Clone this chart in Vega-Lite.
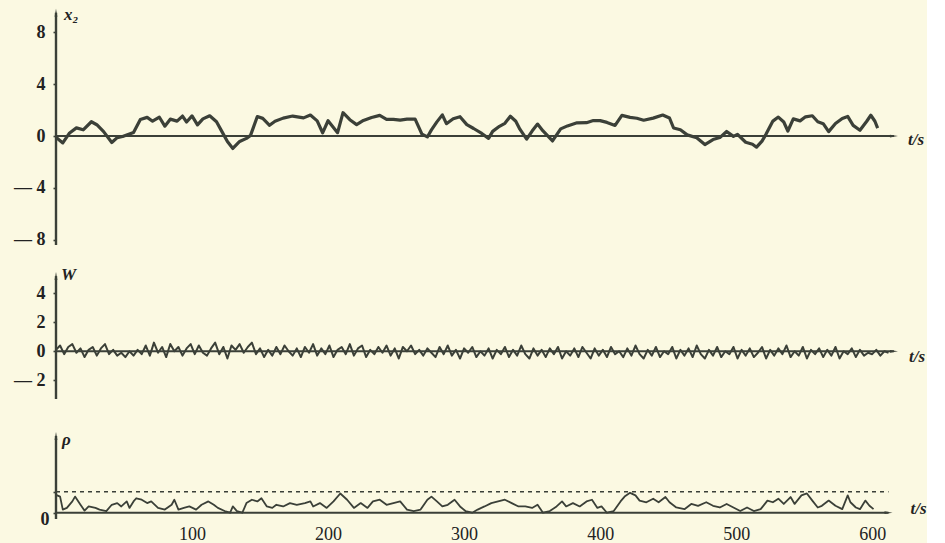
{
  "$schema": "https://vega.github.io/schema/vega-lite/v6.json",
  "background": "#fbf9e2",
  "padding": {"left": 13, "top": 5, "right": 0, "bottom": 0},
  "bounds": "flush",
  "spacing": 21,
  "config": {
    "view": {"stroke": null},
    "axisY": {"domain": false, "grid": false, "title": null, "ticks": true, "tickColor": "#3b4038", "tickSize": 3, "tickWidth": 1.6, "labelFont": "Liberation Serif", "labelFontWeight": "bold", "labelFontSize": 18, "labelColor": "#222", "labelPadding": 8, "labelOverlap": false, "labelFlush": false}
  },
  "datasets": {
    "x2": [
      {"t":0,"v":-0.1},{"t":5,"v":-0.53},{"t":10,"v":0.24},{"t":15,"v":0.63},{"t":20,"v":0.48},{"t":26,"v":1.1},{"t":30,"v":0.87},{"t":35,"v":0.34},{"t":41,"v":-0.5},{"t":45,"v":-0.12},{"t":49,"v":-0.04},{"t":53,"v":0.12},{"t":57,"v":0.28},{"t":62,"v":1.28},{"t":67,"v":1.44},{"t":71,"v":1.14},{"t":76,"v":1.45},{"t":80,"v":0.76},{"t":84,"v":1.3},{"t":89,"v":1.15},{"t":93,"v":1.54},{"t":96,"v":1.08},{"t":100,"v":1.55},{"t":104,"v":0.86},{"t":108,"v":1.32},{"t":113,"v":1.56},{"t":118,"v":1.1},{"t":122,"v":0.34},{"t":126,"v":-0.43},{"t":130,"v":-0.96},{"t":135,"v":-0.42},{"t":140,"v":-0.18},{"t":143,"v":0.05},{"t":148,"v":1.5},{"t":152,"v":1.36},{"t":157,"v":0.83},{"t":161,"v":1.14},{"t":167,"v":1.38},{"t":174,"v":1.54},{"t":182,"v":1.4},{"t":187,"v":1.62},{"t":192,"v":1.17},{"t":196,"v":0.25},{"t":200,"v":1.18},{"t":207,"v":0.26},{"t":211,"v":1.8},{"t":216,"v":1.26},{"t":221,"v":0.88},{"t":226,"v":1.2},{"t":232,"v":1.43},{"t":238,"v":1.59},{"t":243,"v":1.29},{"t":248,"v":1.29},{"t":253,"v":1.22},{"t":258,"v":1.3},{"t":264,"v":1.3},{"t":269,"v":0.15},{"t":273,"v":-0.07},{"t":276,"v":0.47},{"t":280,"v":1.09},{"t":284,"v":1.63},{"t":287,"v":0.95},{"t":292,"v":1.33},{"t":297,"v":1.49},{"t":302,"v":0.88},{"t":307,"v":0.58},{"t":313,"v":0.2},{"t":318,"v":-0.18},{"t":321,"v":0.36},{"t":326,"v":0.75},{"t":330,"v":0.98},{"t":334,"v":1.52},{"t":338,"v":1.14},{"t":341,"v":0.53},{"t":346,"v":-0.24},{"t":350,"v":0.38},{"t":354,"v":0.92},{"t":358,"v":0.39},{"t":365,"v":-0.38},{"t":371,"v":0.55},{"t":376,"v":0.78},{"t":383,"v":1.02},{"t":390,"v":1.03},{"t":395,"v":1.19},{"t":400,"v":1.19},{"t":405,"v":1.05},{"t":411,"v":0.82},{"t":416,"v":1.59},{"t":422,"v":1.44},{"t":427,"v":1.37},{"t":432,"v":1.22},{"t":439,"v":1.38},{"t":446,"v":1.62},{"t":451,"v":1.39},{"t":454,"v":0.62},{"t":459,"v":0.48},{"t":464,"v":0.09},{"t":471,"v":-0.13},{"t":477,"v":-0.66},{"t":483,"v":-0.27},{"t":488,"v":-0.12},{"t":493,"v":0.35},{"t":498,"v":-0.03},{"t":501,"v":0.13},{"t":507,"v":-0.48},{"t":512,"v":-0.63},{"t":515,"v":-0.86},{"t":519,"v":-0.39},{"t":522,"v":0.15},{"t":527,"v":1.15},{"t":531,"v":1.46},{"t":535,"v":1.08},{"t":538,"v":0.39},{"t":542,"v":1.32},{"t":547,"v":1.17},{"t":551,"v":1.48},{"t":556,"v":1.56},{"t":560,"v":1.1},{"t":564,"v":0.95},{"t":568,"v":0.34},{"t":573,"v":0.96},{"t":578,"v":1.35},{"t":582,"v":1.51},{"t":586,"v":0.82},{"t":591,"v":0.44},{"t":596,"v":1.14},{"t":599,"v":1.6},{"t":602,"v":1.14},{"t":604,"v":0.61}
    ],
    "w": [
      {"t":0,"w":0.1},{"t":3,"w":0.4},{"t":6,"w":-0.2},{"t":9,"w":0.3},{"t":12,"w":0.5},{"t":15,"w":-0.1},{"t":18,"w":0.2},{"t":21,"w":-0.4},{"t":24,"w":0.1},{"t":27,"w":0.3},
      {"t":30,"w":-0.3},{"t":33,"w":0.2},{"t":36,"w":0.5},{"t":39,"w":-0.2},{"t":42,"w":0.1},{"t":45,"w":-0.3},{"t":48,"w":-0.1},{"t":51,"w":-0.4},{"t":54,"w":0.0},{"t":57,"w":-0.3},
      {"t":60,"w":0.1},{"t":63,"w":-0.2},{"t":66,"w":0.4},{"t":69,"w":-0.3},{"t":72,"w":0.6},{"t":75,"w":-0.1},{"t":78,"w":0.3},{"t":81,"w":-0.4},{"t":84,"w":0.5},{"t":87,"w":0.0},
      {"t":90,"w":0.3},{"t":93,"w":-0.3},{"t":96,"w":0.2},{"t":99,"w":0.5},{"t":102,"w":-0.2},{"t":105,"w":0.4},{"t":108,"w":-0.1},{"t":111,"w":-0.3},{"t":114,"w":0.2},{"t":117,"w":0.6},
      {"t":120,"w":-0.2},{"t":123,"w":0.3},{"t":126,"w":-0.5},{"t":129,"w":0.4},{"t":132,"w":0.1},{"t":135,"w":0.5},{"t":138,"w":-0.1},{"t":141,"w":0.3},{"t":144,"w":0.6},{"t":147,"w":-0.2},
      {"t":150,"w":0.2},{"t":153,"w":-0.4},{"t":156,"w":0.1},{"t":159,"w":-0.3},{"t":162,"w":0.3},{"t":165,"w":-0.2},{"t":168,"w":0.4},{"t":171,"w":0.0},{"t":174,"w":-0.3},{"t":177,"w":0.2},
      {"t":180,"w":-0.4},{"t":183,"w":0.3},{"t":186,"w":-0.1},{"t":189,"w":0.5},{"t":192,"w":-0.3},{"t":195,"w":0.2},{"t":198,"w":-0.2},{"t":201,"w":0.4},{"t":204,"w":-0.4},{"t":207,"w":0.1},
      {"t":210,"w":0.3},{"t":213,"w":-0.2},{"t":216,"w":0.5},{"t":219,"w":-0.3},{"t":222,"w":0.2},{"t":225,"w":0.4},{"t":228,"w":-0.4},{"t":231,"w":0.1},{"t":234,"w":-0.2},{"t":237,"w":0.3},
      {"t":240,"w":-0.1},{"t":243,"w":0.4},{"t":246,"w":-0.3},{"t":249,"w":0.2},{"t":252,"w":-0.5},{"t":255,"w":0.3},{"t":258,"w":0.0},{"t":261,"w":0.4},{"t":264,"w":-0.2},{"t":267,"w":0.1},
      {"t":270,"w":-0.3},{"t":273,"w":0.2},{"t":276,"w":-0.1},{"t":279,"w":-0.4},{"t":282,"w":0.3},{"t":285,"w":-0.2},{"t":288,"w":0.4},{"t":291,"w":-0.3},{"t":294,"w":0.1},{"t":297,"w":-0.5},
      {"t":300,"w":0.2},{"t":303,"w":-0.1},{"t":306,"w":0.3},{"t":309,"w":-0.4},{"t":312,"w":0.0},{"t":315,"w":-0.3},{"t":318,"w":0.2},{"t":321,"w":-0.5},{"t":324,"w":0.1},{"t":327,"w":-0.2},
      {"t":330,"w":0.3},{"t":333,"w":-0.4},{"t":336,"w":0.1},{"t":339,"w":-0.3},{"t":342,"w":0.4},{"t":345,"w":-0.2},{"t":348,"w":-0.5},{"t":351,"w":0.2},{"t":354,"w":-0.3},{"t":357,"w":0.1},
      {"t":360,"w":-0.4},{"t":363,"w":0.2},{"t":366,"w":-0.2},{"t":369,"w":0.3},{"t":372,"w":-0.5},{"t":375,"w":0.0},{"t":378,"w":-0.3},{"t":381,"w":0.2},{"t":384,"w":-0.4},{"t":387,"w":0.3},
      {"t":390,"w":-0.1},{"t":393,"w":-0.5},{"t":396,"w":0.2},{"t":399,"w":-0.3},{"t":402,"w":0.1},{"t":405,"w":-0.4},{"t":408,"w":0.3},{"t":411,"w":-0.2},{"t":414,"w":0.0},{"t":417,"w":-0.4},
      {"t":420,"w":0.2},{"t":423,"w":-0.3},{"t":426,"w":0.4},{"t":429,"w":-0.2},{"t":432,"w":-0.5},{"t":435,"w":0.1},{"t":438,"w":-0.3},{"t":441,"w":0.3},{"t":444,"w":-0.4},{"t":447,"w":0.0},
      {"t":450,"w":-0.2},{"t":453,"w":0.3},{"t":456,"w":-0.5},{"t":459,"w":0.1},{"t":462,"w":-0.3},{"t":465,"w":0.2},{"t":468,"w":-0.4},{"t":471,"w":0.4},{"t":474,"w":-0.2},{"t":477,"w":-0.5},
      {"t":480,"w":0.1},{"t":483,"w":-0.3},{"t":486,"w":0.3},{"t":489,"w":-0.4},{"t":492,"w":0.0},{"t":495,"w":-0.2},{"t":498,"w":0.3},{"t":501,"w":-0.5},{"t":504,"w":0.1},{"t":507,"w":-0.3},
      {"t":510,"w":0.2},{"t":513,"w":-0.4},{"t":516,"w":-0.1},{"t":519,"w":0.3},{"t":522,"w":-0.5},{"t":525,"w":0.1},{"t":528,"w":-0.3},{"t":531,"w":0.2},{"t":534,"w":-0.2},{"t":537,"w":0.4},
      {"t":540,"w":-0.4},{"t":543,"w":0.0},{"t":546,"w":-0.3},{"t":549,"w":0.3},{"t":552,"w":-0.5},{"t":555,"w":0.1},{"t":558,"w":-0.2},{"t":561,"w":0.2},{"t":564,"w":-0.4},{"t":567,"w":0.1},
      {"t":570,"w":-0.3},{"t":573,"w":0.3},{"t":576,"w":-0.5},{"t":579,"w":0.0},{"t":582,"w":-0.2},{"t":585,"w":0.2},{"t":588,"w":-0.4},{"t":591,"w":0.1},{"t":594,"w":-0.3},{"t":597,"w":-0.1},
      {"t":600,"w":-0.2},{"t":603,"w":0.1},{"t":606,"w":-0.3},{"t":609,"w":0.0},{"t":612,"w":-0.1}
    ],
    "rho": [
      {"t":0,"r":0.85},{"t":3,"r":0.77},{"t":5,"r":0.15},{"t":8,"r":0.23},{"t":12,"r":0.54},{"t":14,"r":0.77},{"t":18,"r":0.38},{"t":21,"r":0.1},{"t":24,"r":0.3},{"t":29,"r":0.23},{"t":32,"r":0.15},{"t":37,"r":0.08},{"t":41,"r":0.38},{"t":45,"r":0.46},{"t":48,"r":0.3},{"t":52,"r":0.54},{"t":54,"r":0.23},{"t":57,"r":0.54},{"t":59,"r":0.69},{"t":63,"r":0.62},{"t":67,"r":0.46},{"t":70,"r":0.54},{"t":75,"r":0.23},{"t":80,"r":0.15},{"t":85,"r":0.38},{"t":87,"r":0.62},{"t":90,"r":0.15},{"t":94,"r":0.23},{"t":98,"r":0.3},{"t":103,"r":0.15},{"t":107,"r":0.38},{"t":112,"r":0.54},{"t":116,"r":0.38},{"t":119,"r":0.23},{"t":124,"r":0.08},{"t":128,"r":0},{"t":130,"r":0.3},{"t":133,"r":0.08},{"t":137,"r":0},{"t":140,"r":0.46},{"t":144,"r":0.62},{"t":148,"r":0.54},{"t":151,"r":0.69},{"t":155,"r":0.3},{"t":159,"r":0.23},{"t":162,"r":0.38},{"t":167,"r":0.3},{"t":172,"r":0.46},{"t":177,"r":0.38},{"t":183,"r":0.46},{"t":187,"r":0.54},
      {"t":189,"r":0.3},{"t":194,"r":0.46},{"t":199,"r":0.23},{"t":204,"r":0.54},{"t":209,"r":0.92},{"t":214,"r":0.62},{"t":219,"r":0.23},{"t":224,"r":0.46},{"t":229,"r":0.23},{"t":233,"r":0.54},{"t":238,"r":0.62},{"t":243,"r":0.38},{"t":248,"r":0.46},{"t":253,"r":0.54},{"t":258,"r":0.15},{"t":263,"r":0.08},{"t":268,"r":0.15},{"t":273,"r":0.62},{"t":276,"r":0.77},{"t":280,"r":0.54},{"t":284,"r":0.3},{"t":288,"r":0.38},{"t":293,"r":0.62},{"t":297,"r":0.3},{"t":301,"r":0.08},{"t":306,"r":0},{"t":310,"r":0.15},{"t":315,"r":0.3},{"t":320,"r":0.46},{"t":325,"r":0.54},{"t":330,"r":0.62},{"t":335,"r":0.46},{"t":340,"r":0.3},{"t":345,"r":0.3},{"t":350,"r":0.23},{"t":354,"r":0.38},{"t":358,"r":0},{"t":363,"r":0.08},{"t":368,"r":0.3},{"t":372,"r":0.54},{"t":375,"r":0.3},{"t":380,"r":0.46},{"t":385,"r":0.3},{"t":390,"r":0.54},{"t":394,"r":0.62},{"t":398,"r":0.23},{"t":401,"r":0.3},{"t":405,"r":0},{"t":410,"r":0.08},{"t":415,"r":0.54},{"t":418,"r":0.77},
      {"t":422,"r":0.95},{"t":426,"r":0.83},{"t":429,"r":0.58},{"t":434,"r":0.5},{"t":439,"r":0.67},{"t":443,"r":0.5},{"t":448,"r":0.75},{"t":451,"r":0.5},{"t":456,"r":0.25},{"t":462,"r":0.17},{"t":467,"r":0.42},{"t":472,"r":0.33},{"t":478,"r":0.5},{"t":483,"r":0.33},{"t":488,"r":0.25},{"t":493,"r":0.42},{"t":498,"r":0.25},{"t":503,"r":0.08},{"t":508,"r":0.25},{"t":513,"r":0.08},{"t":518,"r":0.17},{"t":523,"r":0.58},{"t":527,"r":0.5},{"t":531,"r":0.67},{"t":535,"r":0.42},{"t":540,"r":0.75},{"t":543,"r":0.42},{"t":548,"r":0.83},{"t":552,"r":0.92},{"t":556,"r":0.58},{"t":560,"r":0.25},{"t":563,"r":0.33},{"t":568,"r":0.58},{"t":573,"r":0.33},{"t":578,"r":0.17},{"t":582,"r":0.83},{"t":584,"r":0.5},{"t":588,"r":0.25},{"t":591,"r":0.17},{"t":595,"r":0.58},{"t":598,"r":0.33},{"t":601,"r":0.17}
    ]
  },
  "vconcat": [
    {
      "width": 857, "height": 240,
      "layer": [
        {
          "data": {"name": "x2"},
          "mark": {"type": "line", "color": "#3b4038", "strokeWidth": 3.2, "strokeJoin": "round"},
          "encoding": {
            "x": {"field": "t", "type": "quantitative", "scale": {"domain": [0, 630], "nice": false, "zero": false}, "axis": null},
            "y": {"field": "v", "type": "quantitative", "scale": {"domain": [-8.4, 10.1], "nice": false, "zero": false},
                  "axis": {"values": [-8,-7.5,-7,-6.5,-6,-5.5,-5,-4.5,-4,-3.5,-3,-2.5,-2,-1.5,-1,-0.5,0,0.5,1,1.5,2,2.5,3,3.5,4,4.5,5,5.5,6,6.5,7,7.5,8],
                           "labelExpr": "datum.value % 4 == 0 ? (datum.value < 0 ? '— ' + format(-datum.value, 'd') : format(datum.value, 'd')) : ''"}}
          }
        },
        {
          "data": {"values": [{}]},
          "mark": {"type": "rule", "color": "#3b4038", "strokeWidth": 2},
          "encoding": {"x": {"datum": 0, "type": "quantitative"}, "x2": {"datum": 616}, "y": {"datum": 0, "type": "quantitative"}}
        },
        {
          "data": {"values": [{}]},
          "mark": {"type": "rule", "color": "#3b4038", "strokeWidth": 2.4},
          "encoding": {"x": {"datum": 0, "type": "quantitative"}, "y": {"datum": -8.4, "type": "quantitative"}, "y2": {"datum": 9.5}}
        },
        {
          "data": {"values": [{}]},
          "mark": {"type": "point", "shape": "M-1,-0.35L1,0L-1,0.35Z", "size": 64, "filled": true, "opacity": 1, "color": "#3b4038"},
          "encoding": {"x": {"datum": 616, "type": "quantitative"}, "y": {"datum": 0, "type": "quantitative"}}
        },
        {
          "data": {"values": [{}]},
          "mark": {"type": "point", "shape": "M-0.35,1L0,-1L0.35,1Z", "size": 64, "filled": true, "opacity": 1, "color": "#3b4038"},
          "encoding": {"x": {"datum": 0, "type": "quantitative"}, "y": {"datum": 9.5, "type": "quantitative"}}
        },
        {
          "data": {"values": [{}]},
          "mark": {"type": "text", "text": "t/s", "align": "left", "baseline": "middle", "dx": 14, "dy": 4, "font": "Liberation Serif", "fontStyle": "italic", "fontWeight": "bold", "fontSize": 17, "color": "#222"},
          "encoding": {"x": {"datum": 616, "type": "quantitative"}, "y": {"datum": 0, "type": "quantitative"}}
        },
        {
          "data": {"values": [{}]},
          "mark": {"type": "text", "text": "x₂", "align": "left", "baseline": "top", "dx": 8, "dy": 2, "font": "Liberation Serif", "fontStyle": "italic", "fontWeight": "bold", "fontSize": 17, "color": "#222"},
          "encoding": {"x": {"datum": 0, "type": "quantitative"}, "y": {"datum": 10.1, "type": "quantitative"}}
        }
      ]
    },
    {
      "width": 857, "height": 133,
      "layer": [
        {
          "data": {"name": "w"},
          "mark": {"type": "line", "color": "#3b4038", "strokeWidth": 2, "strokeJoin": "round"},
          "encoding": {
            "x": {"field": "t", "type": "quantitative", "scale": {"domain": [0, 630], "nice": false, "zero": false}, "axis": null},
            "y": {"field": "w", "type": "quantitative", "scale": {"domain": [-3.3, 5.9], "nice": false, "zero": false},
                  "axis": {"values": [-2, 0, 2, 4],
                           "labelExpr": "datum.value < 0 ? '— ' + format(-datum.value, 'd') : format(datum.value, 'd')"}}
          }
        },
        {
          "data": {"values": [{}]},
          "mark": {"type": "rule", "color": "#3b4038", "strokeWidth": 2},
          "encoding": {"x": {"datum": 0, "type": "quantitative"}, "x2": {"datum": 616}, "y": {"datum": 0, "type": "quantitative"}}
        },
        {
          "data": {"values": [{}]},
          "mark": {"type": "rule", "color": "#3b4038", "strokeWidth": 2.4},
          "encoding": {"x": {"datum": 0, "type": "quantitative"}, "y": {"datum": -3.3, "type": "quantitative"}, "y2": {"datum": 5.2}}
        },
        {
          "data": {"values": [{}]},
          "mark": {"type": "point", "shape": "M-1,-0.35L1,0L-1,0.35Z", "size": 64, "filled": true, "opacity": 1, "color": "#3b4038"},
          "encoding": {"x": {"datum": 616, "type": "quantitative"}, "y": {"datum": 0, "type": "quantitative"}}
        },
        {
          "data": {"values": [{}]},
          "mark": {"type": "point", "shape": "M-0.35,1L0,-1L0.35,1Z", "size": 64, "filled": true, "opacity": 1, "color": "#3b4038"},
          "encoding": {"x": {"datum": 0, "type": "quantitative"}, "y": {"datum": 5.2, "type": "quantitative"}}
        },
        {
          "data": {"values": [{}]},
          "mark": {"type": "text", "text": "t/s", "align": "left", "baseline": "middle", "dx": 15, "dy": 6, "font": "Liberation Serif", "fontStyle": "italic", "fontWeight": "bold", "fontSize": 17, "color": "#222"},
          "encoding": {"x": {"datum": 616, "type": "quantitative"}, "y": {"datum": 0, "type": "quantitative"}}
        },
        {
          "data": {"values": [{}]},
          "mark": {"type": "text", "text": "W", "align": "left", "baseline": "top", "dx": 5, "dy": 1, "font": "Liberation Serif", "fontStyle": "italic", "fontWeight": "bold", "fontSize": 17, "color": "#222"},
          "encoding": {"x": {"datum": 0, "type": "quantitative"}, "y": {"datum": 5.9, "type": "quantitative"}}
        }
      ]
    },
    {
      "width": 857, "height": 99,
      "layer": [
        {
          "data": {"values": [{}]},
          "mark": {"type": "rule", "color": "#3b4038", "strokeWidth": 1.6, "strokeDash": [4, 4]},
          "encoding": {"x": {"datum": 0, "type": "quantitative"}, "x2": {"datum": 612}, "y": {"datum": 1, "type": "quantitative"}}
        },
        {
          "data": {"name": "rho"},
          "mark": {"type": "line", "color": "#3b4038", "strokeWidth": 1.8, "strokeJoin": "round"},
          "encoding": {
            "x": {"field": "t", "type": "quantitative", "scale": {"domain": [0, 630], "nice": false, "zero": false},
                  "axis": {"values": [100, 200, 300, 400, 500, 600], "domain": false, "ticks": false, "grid": false, "title": null, "labelFont": "Liberation Serif", "labelFontSize": 18, "labelColor": "#222", "labelPadding": 6, "labelFlush": false}},
            "y": {"field": "r", "type": "quantitative", "scale": {"domain": [-0.3, 4.43], "nice": false, "zero": false},
                  "axis": {"values": [0, 1], "labelExpr": "datum.value == 0 ? '0' : ''", "labelOffset": 7, "labelPadding": 4}}
          }
        },
        {
          "data": {"values": [{}]},
          "mark": {"type": "rule", "color": "#3b4038", "strokeWidth": 2},
          "encoding": {"x": {"datum": 0, "type": "quantitative"}, "x2": {"datum": 612}, "y": {"datum": 0, "type": "quantitative"}}
        },
        {
          "data": {"values": [{}]},
          "mark": {"type": "rule", "color": "#3b4038", "strokeWidth": 2.4},
          "encoding": {"x": {"datum": 0, "type": "quantitative"}, "y": {"datum": -0.3, "type": "quantitative"}, "y2": {"datum": 3.67}}
        },
        {
          "data": {"values": [{}]},
          "mark": {"type": "point", "shape": "M-1,-0.35L1,0L-1,0.35Z", "size": 64, "filled": true, "opacity": 1, "color": "#3b4038"},
          "encoding": {"x": {"datum": 612, "type": "quantitative"}, "y": {"datum": 0, "type": "quantitative"}}
        },
        {
          "data": {"values": [{}]},
          "mark": {"type": "point", "shape": "M-0.35,1L0,-1L0.35,1Z", "size": 64, "filled": true, "opacity": 1, "color": "#3b4038"},
          "encoding": {"x": {"datum": 0, "type": "quantitative"}, "y": {"datum": 3.67, "type": "quantitative"}}
        },
        {
          "data": {"values": [{}]},
          "mark": {"type": "text", "text": "t/s", "align": "left", "baseline": "middle", "dx": 22, "dy": -4, "font": "Liberation Serif", "fontStyle": "italic", "fontWeight": "bold", "fontSize": 17, "color": "#222"},
          "encoding": {"x": {"datum": 612, "type": "quantitative"}, "y": {"datum": 0, "type": "quantitative"}}
        },
        {
          "data": {"values": [{}]},
          "mark": {"type": "text", "text": "ρ", "align": "left", "baseline": "top", "dx": 6, "dy": 4, "font": "Liberation Serif", "fontStyle": "italic", "fontWeight": "bold", "fontSize": 17, "color": "#222"},
          "encoding": {"x": {"datum": 0, "type": "quantitative"}, "y": {"datum": 4.05, "type": "quantitative"}}
        }
      ]
    }
  ]
}
